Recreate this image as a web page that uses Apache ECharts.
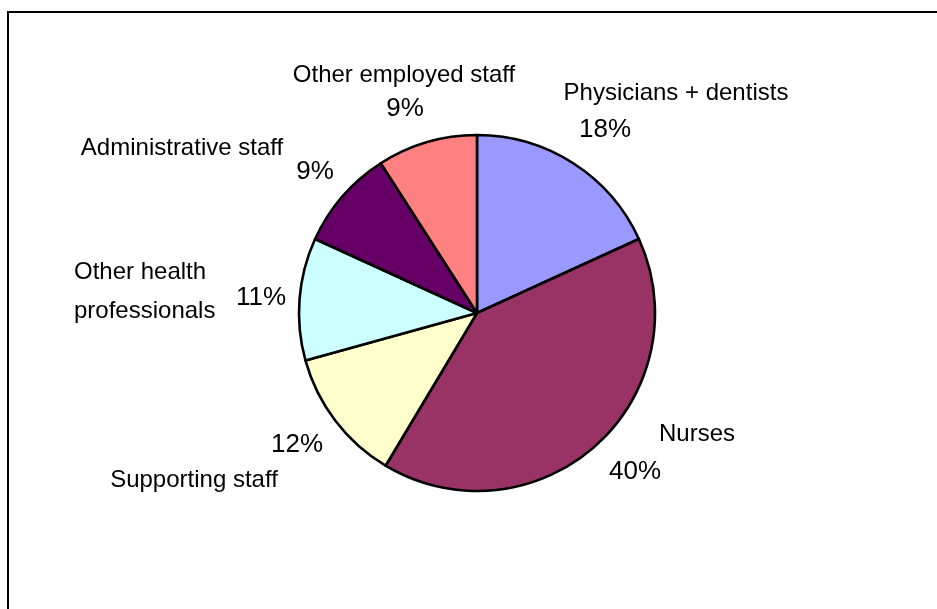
<!DOCTYPE html>
<html>
<head>
<meta charset="utf-8">
<script src="https://cdn.jsdelivr.net/npm/echarts@6/dist/echarts.min.js"></script>
<style>
  html, body { margin: 0; padding: 0; background: #fff; }
  #chart { width: 937px; height: 609px; }
</style>
</head>
<body>
<div id="chart"></div>
<script>
// Staff categories and their shares (%), clockwise from 12 o'clock
const categories = [
  'Physicians + dentists',
  'Nurses',
  'Supporting staff',
  'Other health\nprofessionals',
  'Administrative staff',
  'Other employed staff'
];
const shares = [18, 40, 12, 11, 9, 9];
const sliceColors = ['#9999FF', '#993366', '#FFFFCC', '#CCFFFF', '#660066', '#FF8080'];

// Where each category name and each percentage label sits
const namePos = [
  { x: 676, y: 93, align: 'center' },
  { x: 697, y: 434, align: 'center' },
  { x: 194, y: 480, align: 'center' },
  { x: 74, y: 292, align: 'left' },
  { x: 182, y: 148, align: 'center' },
  { x: 404, y: 75, align: 'center' }
];
const pctPos = [
  { x: 605, y: 130 },
  { x: 635, y: 472 },
  { x: 297, y: 445 },
  { x: 261, y: 298 },
  { x: 315, y: 172 },
  { x: 405, y: 109 }
];

const FONT = 'Liberation Sans, Arial, sans-serif';

const chart = echarts.init(document.getElementById('chart'), null, { renderer: 'canvas' });

const nameTexts = categories.map((c, i) => ({
  type: 'text',
  silent: true,
  style: {
    text: c,
    x: namePos[i].x,
    y: namePos[i].y,
    align: namePos[i].align,
    verticalAlign: 'middle',
    fontFamily: FONT,
    fontSize: 24,
    lineHeight: 39,
    fill: '#000'
  }
}));

chart.setOption({
  backgroundColor: '#fff',
  animation: false,
  graphic: [
    {
      type: 'rect',
      silent: true,
      shape: { x: 8, y: 12, width: 980, height: 660 },
      style: { fill: 'none', stroke: '#000', lineWidth: 2 }
    }
  ].concat(nameTexts),
  series: [{
    type: 'pie',
    center: [477, 313],
    radius: 178,
    startAngle: 90,
    clockwise: true,
    avoidLabelOverlap: false,
    data: categories.map((c, i) => ({
      name: c,
      value: shares[i],
      itemStyle: { color: sliceColors[i] }
    })),
    itemStyle: { borderColor: '#000', borderWidth: 2.6 },
    label: {
      show: true,
      position: 'outside',
      formatter: p => p.value + '%',
      fontFamily: FONT,
      fontSize: 26,
      color: '#000'
    },
    labelLine: { show: false },
    labelLayout: params => ({
      x: pctPos[params.dataIndex].x,
      y: pctPos[params.dataIndex].y,
      align: 'center',
      verticalAlign: 'middle'
    }),
    emphasis: { disabled: true }
  }]
});
</script>
</body>
</html>
